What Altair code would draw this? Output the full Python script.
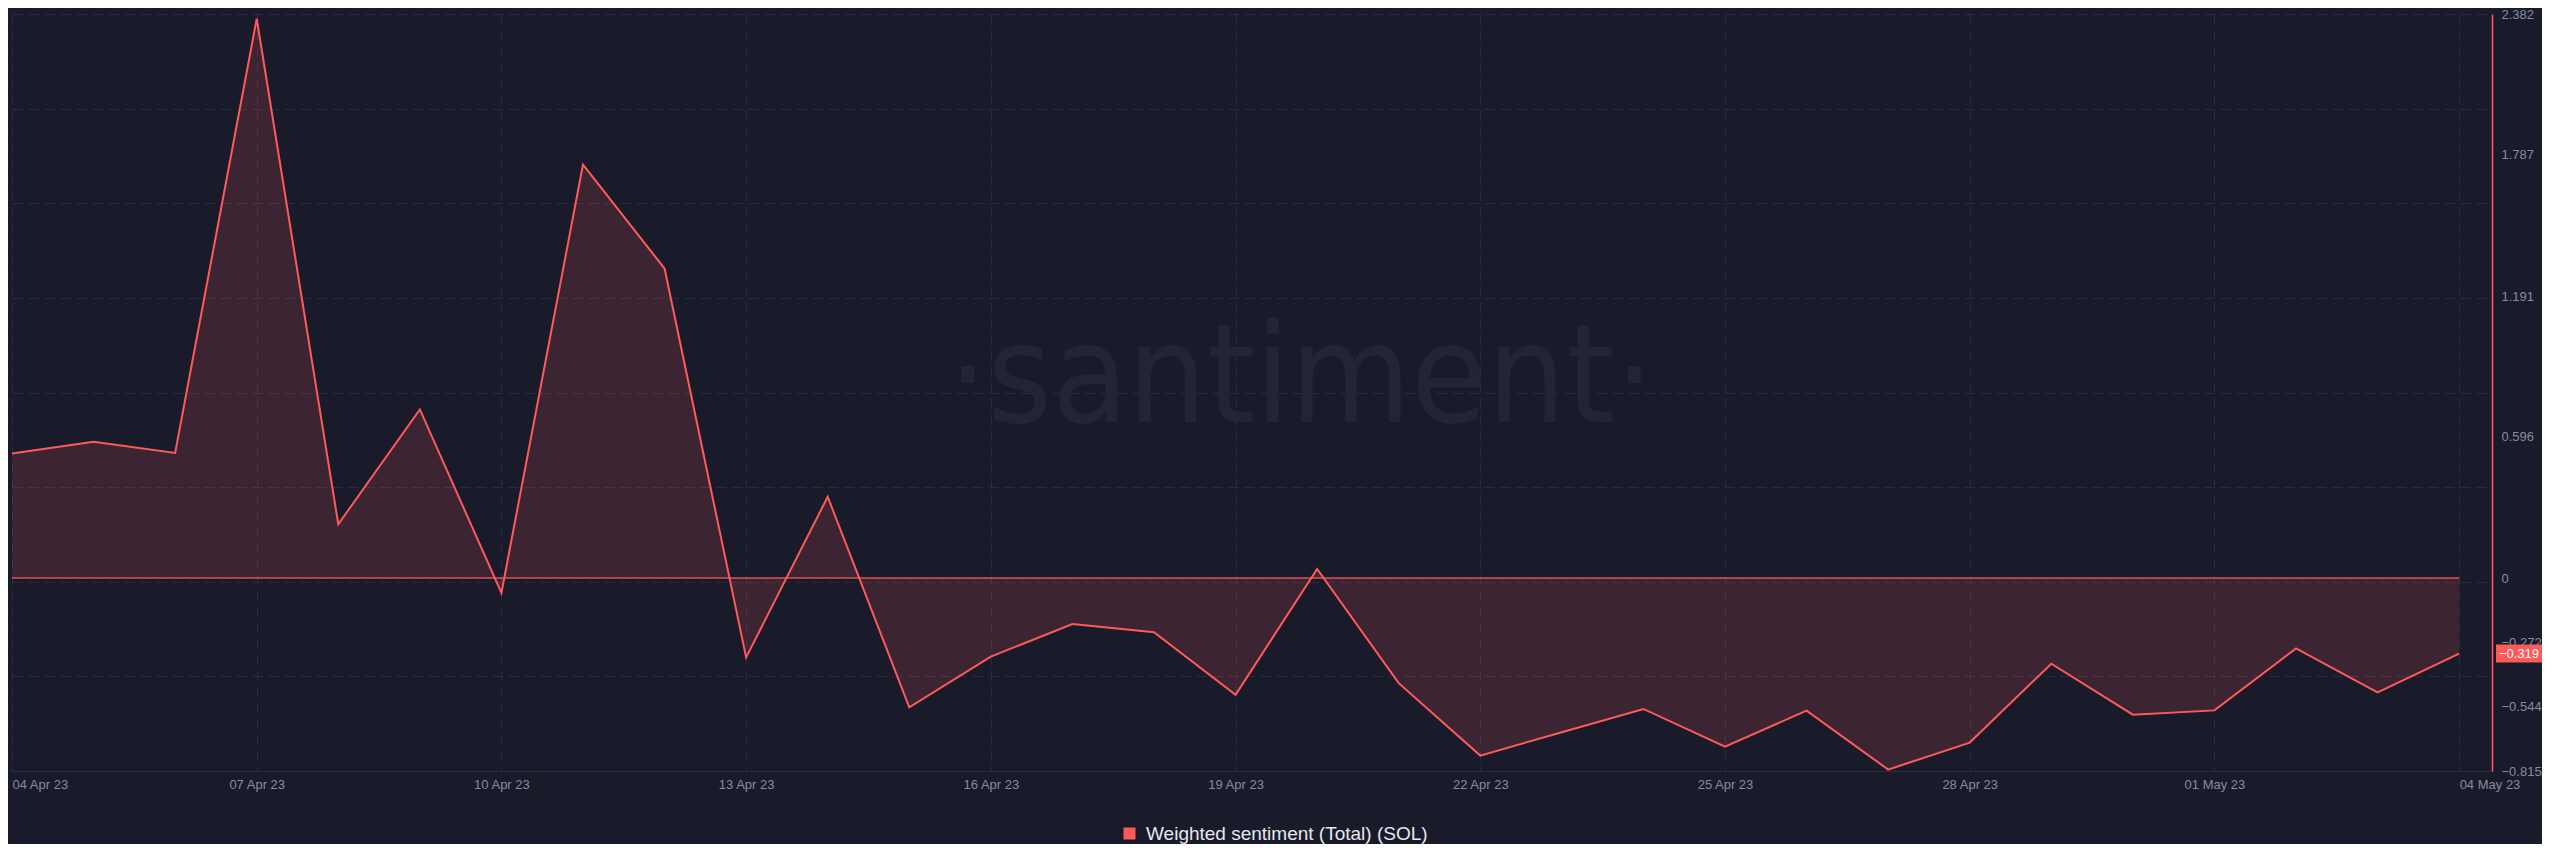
import altair as alt
import pandas as pd

# ---- data ----
dates = [
    "2023-04-04", "2023-04-05", "2023-04-06", "2023-04-07", "2023-04-08", "2023-04-09",
    "2023-04-10", "2023-04-11", "2023-04-12", "2023-04-13", "2023-04-14", "2023-04-15",
    "2023-04-16", "2023-04-17", "2023-04-18", "2023-04-19", "2023-04-20", "2023-04-21",
    "2023-04-22", "2023-04-23", "2023-04-24", "2023-04-25", "2023-04-26", "2023-04-27",
    "2023-04-28", "2023-04-29", "2023-04-30", "2023-05-01", "2023-05-02", "2023-05-03",
    "2023-05-04",
]
values = [
    0.526, 0.575, 0.528, 2.362, 0.227, 0.712,
    -0.063, 1.746, 1.307, -0.335, 0.343, -0.546,
    -0.332, -0.194, -0.229, -0.493, 0.038, -0.444,
    -0.750, -0.651, -0.553, -0.712, -0.560, -0.809,
    -0.695, -0.362, -0.577, -0.559, -0.297, -0.483,
    -0.319,
]
series_name = "Weighted sentiment (Total) (SOL)"
y_tick_values = [2.382, 1.787, 1.191, 0.596, 0, -0.272, -0.544, -0.815]
x_tick_days = [(4, 4), (4, 7), (4, 10), (4, 13), (4, 16), (4, 19), (4, 22), (4, 25), (4, 28), (5, 1), (5, 4)]
watermark = "·santiment·"

# ---- styling ----
W, H = 2480, 757
BG = "#191b2b"
RED = "#ff5a5a"
GRID = "#2a2c3e"
LABEL = "#868b9e"
FONT = "Liberation Sans"
Y_MIN, Y_MAX = -0.815, 2.382
grid_vals = [Y_MIN + (Y_MAX - Y_MIN) * k / 8 for k in range(9)]

df = pd.DataFrame({"date": dates, "value": values, "series": [series_name] * len(dates)})
last_df = df.tail(1)

xscale = alt.Scale(
    type="utc",
    domain=[
        alt.DateTime(year=2023, month=4, date=4, utc=True),
        alt.DateTime(year=2023, month=5, date=4, hours=9, minutes=40, utc=True),
    ],
)
yscale = alt.Scale(domain=[Y_MIN, Y_MAX], nice=False, zero=False)

x_axis = alt.Axis(
    values=[alt.DateTime(year=2023, month=m, date=d, utc=True) for m, d in x_tick_days],
    labelExpr="utcFormat(datum.value, '%d %b %y')",
    grid=True, gridColor=GRID, gridDash=[10, 6], gridWidth=1,
    ticks=False, domainColor="#2c2e40", domainWidth=1,
    labelColor=LABEL, labelFont=FONT, labelFontSize=13, labelPadding=7,
    labelOverlap=False, labelFlush=False,
    labelAlign={"condition": {"test": "datum.index == 0 || datum.index == 1", "value": "left"}, "value": "center"},
    title=None,
)
X = alt.X("date:T", scale=xscale, axis=x_axis)

base = alt.Chart(df)

area = base.mark_area(color=RED, opacity=0.16).encode(
    x=X,
    y=alt.Y("value:Q", scale=yscale, axis=alt.Axis(
        orient="left", values=grid_vals, grid=True, gridColor=GRID, gridDash=[10, 6],
        labels=False, ticks=False, domain=False, title=None)),
    y2=alt.datum(0),
)

zero_line = base.transform_calculate(zero="0").mark_line(color=RED, strokeWidth=1.5, opacity=0.85).encode(
    x=X,
    y=alt.Y("zero:Q", scale=yscale, axis=None),
)

line = base.mark_line(strokeWidth=2).encode(
    x=X,
    y=alt.Y("value:Q", scale=yscale, axis=alt.Axis(
        orient="right", values=y_tick_values,
        labelExpr="datum.value == 0 ? '0' : format(datum.value, '.3f')",
        grid=False, ticks=False, domainColor=RED, domainWidth=1.5,
        labelColor=LABEL, labelFont=FONT, labelFontSize=13, labelPadding=9,
        labelOverlap=False, labelBaseline="middle", title=None)),
    color=alt.Color("series:N", scale=alt.Scale(range=[RED]), legend=alt.Legend(
        orient="none", legendX=1108, legendY=810, title=None,
        symbolType="square", symbolSize=144, symbolFillColor=RED, symbolStrokeWidth=0,
        symbolOpacity=1, labelFontSize=19, labelColor="#e6e7ee", labelFont=FONT,
        labelOffset=7, labelLimit=0, padding=0)),
)

box = alt.Chart(last_df).mark_point(
    shape="M-1,-0.39L1,-0.39L1,0.39L-1,0.39Z", size=2116, filled=True, color=RED, opacity=1
).encode(
    x=alt.value(W + 27),
    y=alt.Y("value:Q", scale=yscale, axis=None),
)
box_text = alt.Chart(last_df).mark_text(color="#ffffff", fontSize=13, font=FONT).encode(
    x=alt.value(W + 27),
    y=alt.Y("value:Q", scale=yscale, axis=None),
    text=alt.Text("value:Q", format=".3f"),
)

wm = alt.Chart(pd.DataFrame({"t": [watermark]})).mark_text(
    font="Liberation Sans Narrow, DejaVu Sans Condensed, Open Sans", fontSize=138,
    color="#222537", align="center", baseline="alphabetic",
).encode(x=alt.value(1289), y=alt.value(408), text="t:N")

chart = alt.layer(wm, area, zero_line, line, box, box_text).resolve_axis(y="independent").properties(
    width=W, height=H, background=BG, padding=0,
).configure_view(stroke=None)

chart.save("out.html", embed_options={"renderer": "svg", "actions": False})
